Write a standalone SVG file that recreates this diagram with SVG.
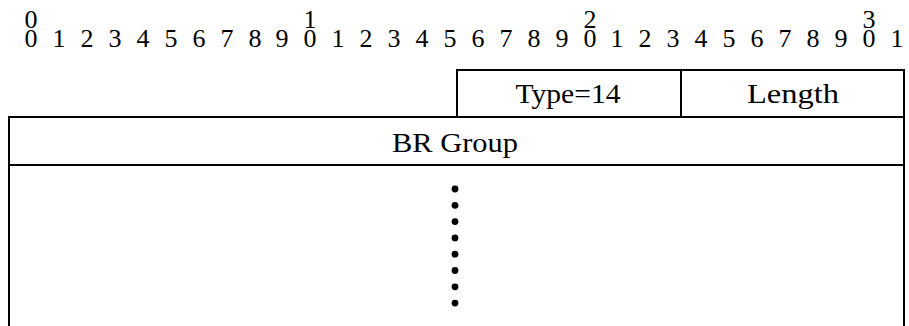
<svg xmlns="http://www.w3.org/2000/svg" width="909" height="326" viewBox="0 0 909 326">
  <style>
    text { fill: #000; text-anchor: middle; font-family: "Liberation Serif", "Times New Roman", "DejaVu Serif", serif; }
    #ruler text { font-size: 26px; }
    .label { font-size: 27px; }
    .box { fill: none; stroke: #000; stroke-width: 2; }
    .dot { fill: #000; }
  </style>
  <rect width="909" height="326" fill="#fff"/>

  <!-- bit ruler: tens row and units row -->
  <g id="ruler" font-size="26">
    <text x="31" y="28">0</text>
    <text x="310" y="28">1</text>
    <text x="590" y="28">2</text>
    <text x="869" y="28">3</text>
    <text x="31" y="47">0</text>
    <text x="59" y="47">1</text>
    <text x="87" y="47">2</text>
    <text x="115" y="47">3</text>
    <text x="143" y="47">4</text>
    <text x="171" y="47">5</text>
    <text x="199" y="47">6</text>
    <text x="227" y="47">7</text>
    <text x="255" y="47">8</text>
    <text x="282" y="47">9</text>
    <text x="310" y="47">0</text>
    <text x="338" y="47">1</text>
    <text x="366" y="47">2</text>
    <text x="394" y="47">3</text>
    <text x="422" y="47">4</text>
    <text x="450" y="47">5</text>
    <text x="478" y="47">6</text>
    <text x="506" y="47">7</text>
    <text x="534" y="47">8</text>
    <text x="562" y="47">9</text>
    <text x="590" y="47">0</text>
    <text x="617" y="47">1</text>
    <text x="645" y="47">2</text>
    <text x="673" y="47">3</text>
    <text x="701" y="47">4</text>
    <text x="729" y="47">5</text>
    <text x="757" y="47">6</text>
    <text x="785" y="47">7</text>
    <text x="813" y="47">8</text>
    <text x="841" y="47">9</text>
    <text x="869" y="47">0</text>
    <text x="897" y="47">1</text>
  </g>

  <!-- Type field -->
  <g id="type">
    <rect class="box" x="457" y="70" width="224" height="47"/>
    <text class="label" x="568" y="103" textLength="105" lengthAdjust="spacingAndGlyphs">Type=14</text>
  </g>

  <!-- Length field -->
  <g id="length">
    <rect class="box" x="681" y="70" width="223" height="47"/>
    <text class="label" x="793" y="103" textLength="92" lengthAdjust="spacingAndGlyphs">Length</text>
  </g>

  <!-- BR Group field -->
  <g id="br-group">
    <rect class="box" x="9" y="117" width="895" height="48"/>
    <text class="label" x="455" y="152" textLength="126" lengthAdjust="spacingAndGlyphs">BR Group</text>
  </g>

  <!-- open-ended remainder with ellipsis dots -->
  <g id="remainder">
    <path class="box" d="M9 165 V326 M904 165 V326"/>
    <circle class="dot" cx="455" cy="189" r="3.4"/>
    <circle class="dot" cx="455" cy="205.3" r="3.4"/>
    <circle class="dot" cx="455" cy="221.6" r="3.4"/>
    <circle class="dot" cx="455" cy="237.9" r="3.4"/>
    <circle class="dot" cx="455" cy="254.2" r="3.4"/>
    <circle class="dot" cx="455" cy="270.5" r="3.4"/>
    <circle class="dot" cx="455" cy="286.8" r="3.4"/>
    <circle class="dot" cx="455" cy="303.1" r="3.4"/>
  </g>
</svg>
